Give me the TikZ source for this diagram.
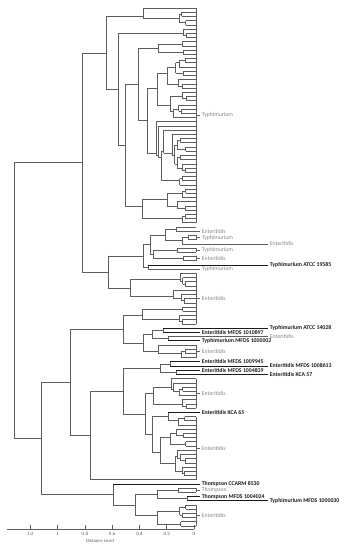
\documentclass[tikz,border=0pt]{standalone}
\usepackage{fontspec}
\setmainfont{Carlito}
\usepackage{tikz}
\usetikzlibrary{positioning}
\definecolor{treeGray}{HTML}{5E5E5E}
\definecolor{labelGray}{HTML}{858585}
\definecolor{refBlack}{HTML}{1A1A1A}

\def\xtip{196}
\newcommand\lf[1]{(8+4.2114*(#1))}

\newcommand\clade[4]{%
  \begingroup
  \pgfmathsetmacro\kY{(\lf{#3}+\lf{#4})/2}%
  \ifnum#3=#4\relax
    \draw[branch] (#1,\kY) -- (\xtip,\kY);%
  \else
    \draw[branch] (#1,\kY) -- (#2,\kY);%
    \pgfmathsetmacro\kH{mod(abs(sin(mod(#3*47+#4*29,360))*997),1)}%
    \pgfmathsetmacro\kG{mod(abs(sin(mod(#3*23+#4*61,360))*773),1)}%
    \pgfmathtruncatemacro\kM{ifthenelse(\kH<0.3,#3,#3+floor((#4-#3)*(0.2+0.6*\kH)))}%
    \pgfmathtruncatemacro\kN{\kM+1}%
    \pgfmathsetmacro\kYa{(\lf{#3}+\lf{\kM})/2}%
    \pgfmathsetmacro\kYb{(\lf{\kN}+\lf{#4})/2}%
    \draw[branch] (#2,\kYa) -- (#2,\kYb);%
    \pgfmathsetmacro\kXa{min(\xtip-2,max(#2+2.5,\xtip-9*(\kM-#3+1)^0.55*(0.75+0.5*\kG)))}%
    \pgfmathsetmacro\kXb{min(\xtip-2,max(#2+2.5,\xtip-9*(#4-\kM)^0.55*(1.25-0.5*\kG)))}%
    \edef\kNext{\noexpand\clade{#2}{\kXa}{#3}{\kM}\noexpand\clade{#2}{\kXb}{\kN}{#4}}%
    \kNext
  \fi
  \endgroup}

\newcommand\grp[4]{%
  \draw[branch] (\xtip,{\lf{#2}}) -- (\xtip,{\lf{#3}});
  \coordinate (#1) at (\xtip,{(\lf{#2}+\lf{#3})/2});
  \draw[branch] (#1) -- ++(4,0) node[strainLabel] (#1txt) {#4};}

\newcommand\strain[7]{%
  \coordinate (#1) at (#2,{\lf{#3}});
  \draw[#5] (#1) -- (#4,{\lf{#3}}) node[#6] (#1txt) {#7};}

\tikzset{
  branch/.style={draw=treeGray, line width=0.6pt},
  refLine/.style={draw=refBlack, line width=0.6pt},
  axisLine/.style={draw=treeGray, line width=0.6pt},
  strainLabel/.style={font=\fontsize{5.8}{7}\selectfont, text=labelGray, anchor=west, inner sep=0pt, xshift=1.5pt},
  refLabel/.style={strainLabel, font=\fontsize{5.8}{7}\selectfont\bfseries, text=refBlack},
  tickLabel/.style={font=\fontsize{5}{6}\selectfont, text=treeGray, inner sep=0pt}
}

\begin{document}
\begin{tikzpicture}[x=1pt, y=-1pt]
  \useasboundingbox (0,0) rectangle (350,550);

  \draw[branch] (14,162.37) -- (14,438.3);

  \draw[branch] (14,162.37) -- (82,162.37) (82,52.81) -- (82,271.93);
  \draw[branch] (82,52.81) -- (106,52.81) (106,16.42) -- (106,89.2);
  \clade{106}{143}{0}{4}
  \draw[branch] (106,89.2) -- (118,89.2) (118,33.27) -- (118,145.13);
  \clade{118}{183}{5}{7}
  \draw[branch] (118,145.13) -- (125,145.13) (125,84.33) -- (125,205.93);
  \draw[branch] (125,84.33) -- (138,84.33) (138,48.01) -- (138,120.66);
  \clade{138}{158}{8}{11}
  \draw[branch] (138,120.66) -- (147,120.66) (147,88.02) -- (147,153.3);
  \clade{147}{157}{12}{26}
  \clade{147}{156}{27}{42}
  \clade{125}{142}{43}{51}

  \draw[branch] (82,271.93) -- (108,271.93) (108,255.8) -- (108,288.06);
  \draw[branch] (108,255.8) -- (143,255.8) (143,244.63) -- (143,267.0);
  \draw[branch] (143,244.63) -- (150,244.63) (150,234.89) -- (150,254.37);
  \draw[branch] (150,234.89) -- (165,234.89) (165,229.1) -- (165,240.68);
  \clade{165}{176}{52}{53}
  \draw[branch] (165,240.68) -- (182,240.68) (182,237.52) -- (182,243.84);
  \clade{182}{188}{54}{55}
  \clade{182}{0}{56}{56}
  \draw[branch] (150,254.37) -- (153,254.37) (153,250.16) -- (153,258.58);
  \clade{153}{177}{57}{58}
  \clade{153}{183}{59}{60}
  \clade{143}{148}{61}{62}
  \clade{108}{130}{63}{70}

  \draw[branch] (14,438.3) -- (41,438.3) (41,382.23) -- (41,494.42);
  \draw[branch] (41,382.23) -- (70,382.23) (70,329.13) -- (70,435.33);
  \draw[branch] (70,329.13) -- (123,329.13) (123,315.44) -- (123,342.81);
  \clade{123}{142}{71}{75}
  \draw[branch] (123,342.81) -- (143,342.81) (143,334.39) -- (143,351.23);
  \draw[branch] (143,334.39) -- (152,334.39) (152,330.18) -- (152,338.6);
  \clade{152}{163}{76}{77}
  \clade{152}{168}{78}{79}
  \clade{143}{158}{80}{83}
  \draw[branch] (70,435.33) -- (90,435.33) (90,390.98) -- (90,479.68);
  \draw[branch] (90,390.98) -- (123,390.98) (123,368.08) -- (123,413.87);
  \draw[branch] (123,368.08) -- (160,368.08) (160,363.87) -- (160,372.29);
  \clade{160}{170}{84}{85}
  \clade{160}{176}{86}{87}
  \draw[branch] (123,413.87) -- (145,413.87) (145,393.34) -- (145,434.4);
  \clade{145}{153}{88}{95}
  \draw[branch] (145,434.4) -- (152,434.4) (152,416.5) -- (152,452.3);
  \draw[branch] (152,416.5) -- (168,416.5) (168,412.29) -- (168,420.72);
  \clade{168}{0}{96}{96}
  \clade{168}{178}{97}{99}
  \clade{152}{160}{100}{111}
  \clade{90}{0}{112}{112}
  \draw[branch] (41,494.42) -- (113,494.42) (113,483.89) -- (113,504.95);
  \clade{113}{0}{113}{113}
  \draw[branch] (113,504.95) -- (135,504.95) (135,494.42) -- (135,515.47);
  \draw[branch] (135,494.42) -- (157,494.42) (157,490.2) -- (157,498.63);
  \clade{157}{178}{114}{115}
  \clade{157}{187}{116}{117}
  \clade{135}{157}{118}{123}

  \grp{typGroup}{0}{51}{Typhimurium}
  \grp{typPairA}{54}{55}{Typhimurium}
  \grp{typPairB}{57}{58}{Typhimurium}
  \grp{entPair}{59}{60}{Enteritidis}
  \grp{entGroupA}{63}{75}{Enteritidis}
  \grp{entGroupB}{80}{83}{Enteritidis}
  \grp{entGroupC}{88}{95}{Enteritidis}
  \grp{entGroupD}{97}{112}{Enteritidis}
  \grp{thoPair}{114}{115}{Thompson}
  \grp{entGroupE}{118}{123}{Enteritidis}

  \strain{entA}{\xtip}{53}{200}{branch}{strainLabel}{Enteritidis}
  \strain{entB}{\xtip}{56}{268}{branch}{strainLabel}{Enteritidis}
  \strain{atcc19585}{148}{61}{268}{refLine}{refLabel}{Typhimurium ATCC 19585}
  \strain{typB}{\xtip}{62}{200}{branch}{strainLabel}{Typhimurium}
  \strain{atcc14028}{163}{76}{268}{refLine}{refLabel}{Typhimurium ATCC 14028}
  \strain{mfds1010897}{163}{77}{200}{refLine}{refLabel}{Enteritidis MFDS 1010897}
  \strain{entC}{\xtip}{78}{268}{branch}{strainLabel}{Enteritidis}
  \strain{mfds1000002}{168}{79}{200}{refLine}{refLabel}{Typhimurium MFDS 1000002}
  \strain{mfds1009945}{170}{84}{200}{refLine}{refLabel}{Enteritidis MFDS 1009945}
  \strain{mfds1008613}{170}{85}{268}{refLine}{refLabel}{Enteritidis MFDS 1008613}
  \strain{mfds1004839}{176}{86}{200}{refLine}{refLabel}{Enteritidis MFDS 1004839}
  \strain{kca57}{176}{87}{268}{refLine}{refLabel}{Enteritidis KCA 57}
  \strain{kca65}{168}{96}{200}{refLine}{refLabel}{Enteritidis KCA 65}
  \strain{ccarm8530}{113}{113}{200}{refLine}{refLabel}{Thompson CCARM 8530}
  \strain{mfds1004024}{187}{116}{200}{refLine}{refLabel}{Thompson MFDS 1004024}
  \strain{mfds1000030}{187}{117}{268}{refLine}{refLabel}{Typhimurium MFDS 1000030}

  \draw[axisLine] (7,529) -- (194,529);
  \foreach \d/\t [count=\k] in {0/0, 0.2/0.2, 0.4/0.4, 0.6/0.6, 0.8/0.8, 1/1, 1.2/1.2} {
    \draw[axisLine] ({194-136.4*\d},525) -- ({194-136.4*\d},529);
    \node[tickLabel] (tick\k) at ({194-136.4*\d},534) {\t};
  }
  \node[tickLabel, font=\fontsize{4.8}{6}\selectfont] (distTitle) at (100,541) {Distance Level};
\end{tikzpicture}
\end{document}
